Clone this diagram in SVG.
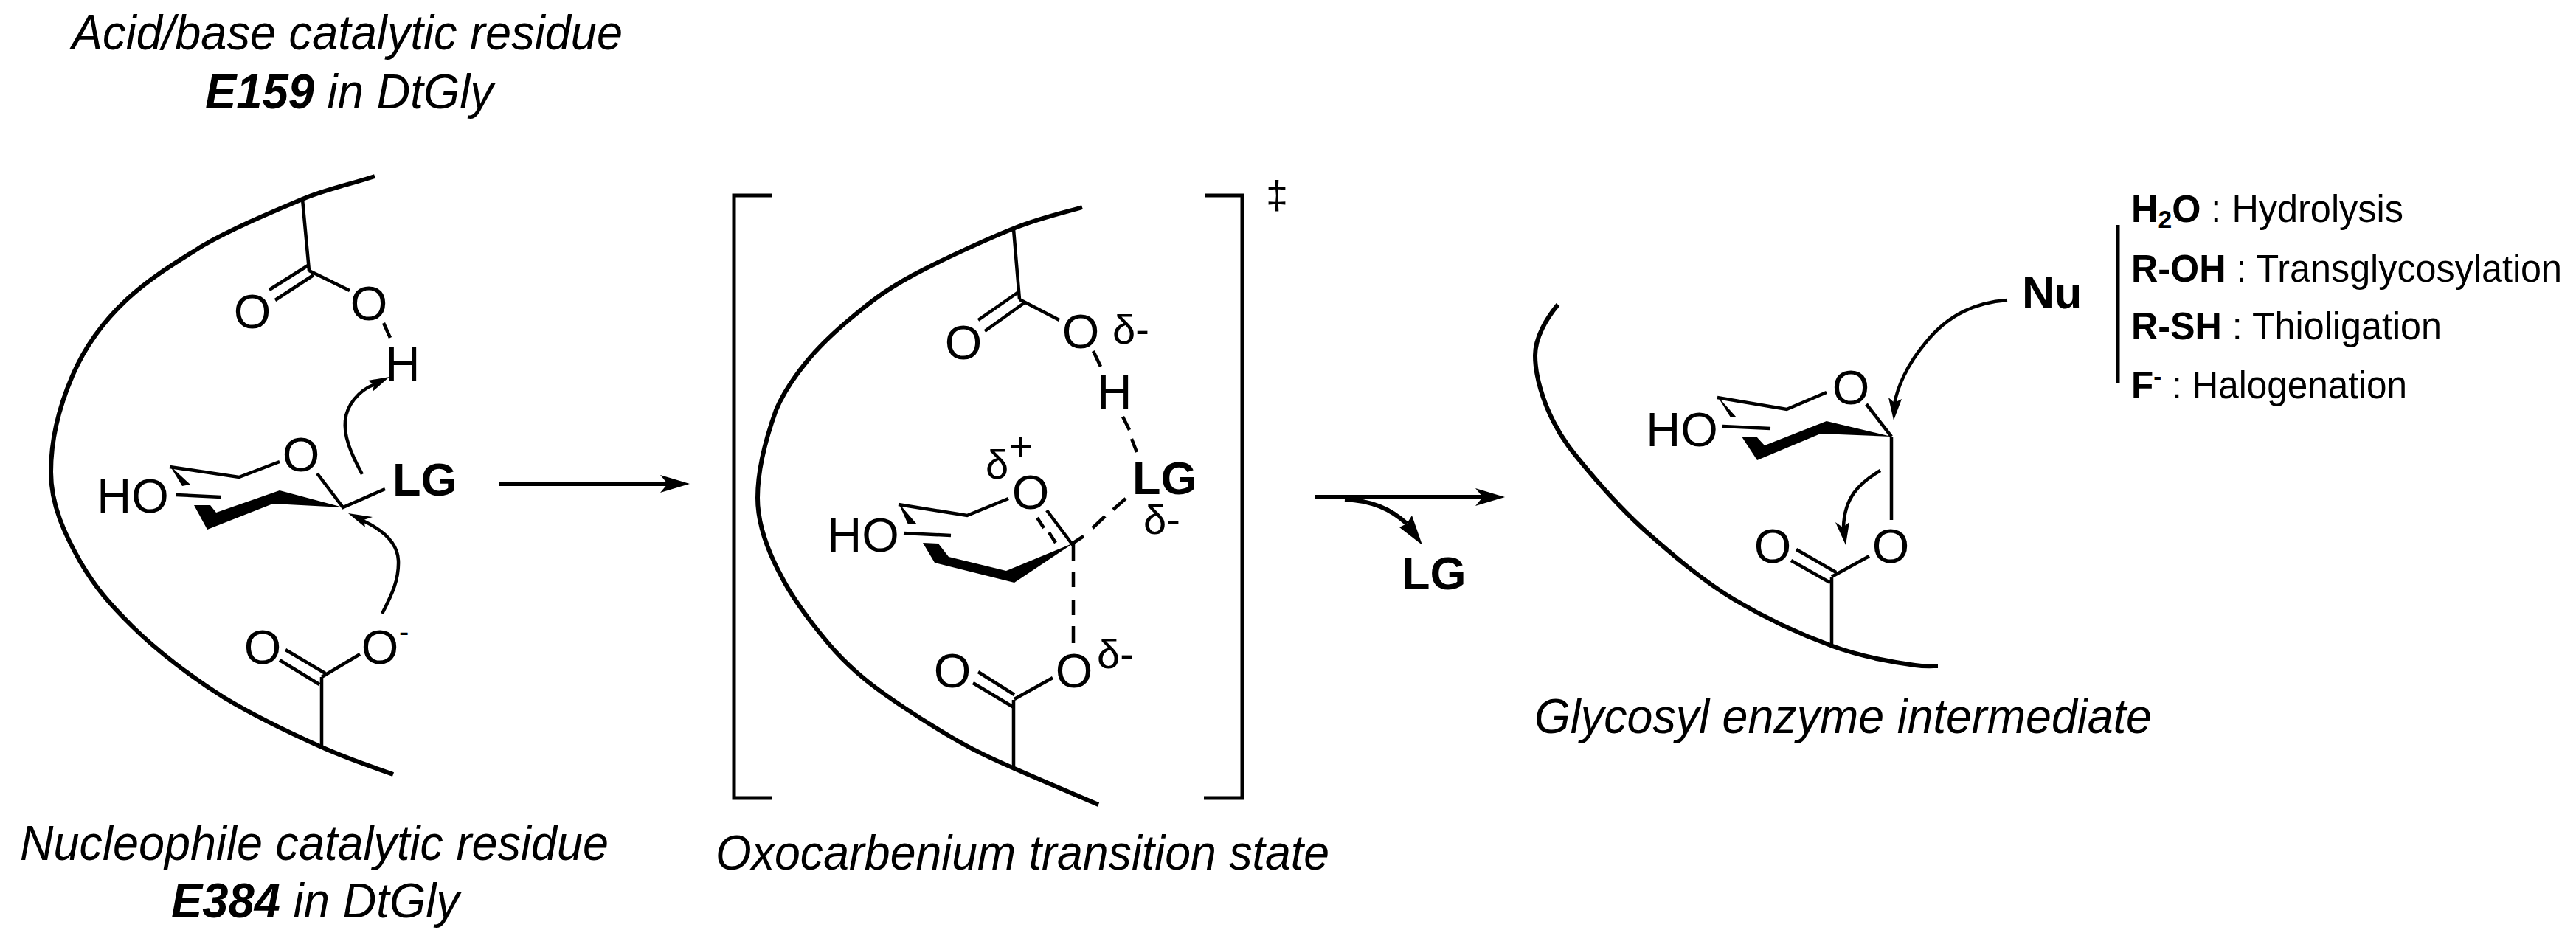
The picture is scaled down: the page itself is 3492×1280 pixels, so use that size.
<svg xmlns="http://www.w3.org/2000/svg" width="3492" height="1280" viewBox="0 0 3492 1280">
<style>
text{font-family:"Liberation Sans",Arial,sans-serif;fill:#000}
.cap{font-size:67px;font-style:italic}
.at{font-size:65px;text-anchor:middle}
.lg{font-size:63px;font-weight:bold}
.d{font-size:56px}
.li{font-size:51px}
.b{font-weight:bold}
.bond{fill:none;stroke:#000;stroke-width:4.5;stroke-linecap:butt}
.prot{fill:none;stroke:#000;stroke-width:6;stroke-linecap:butt;stroke-linejoin:round}
.brk{fill:none;stroke:#000;stroke-width:5}
.arr{fill:none;stroke:#000;stroke-width:4.5}
.main{fill:none;stroke:#000;stroke-width:6}
.fill{fill:#000;stroke:none}
</style>
<defs>
<marker id="head" markerUnits="userSpaceOnUse" markerWidth="40" markerHeight="24" viewBox="0 0 40 24" refX="10" refY="12" orient="auto"><path class="fill" d="M40 12L0 0 10 12 0 24Z"/></marker>
</defs>
<rect width="3492" height="1280" fill="#fff"/>
<g id="substrate-complex">
<text class="cap" x="97" y="67" textLength="747" lengthAdjust="spacingAndGlyphs">Acid/base catalytic residue</text>
<text class="cap" x="278" y="147" textLength="391" lengthAdjust="spacingAndGlyphs"><tspan class="b">E159</tspan> in DtGly</text>
<path class="prot" d="M508 239C475 250 440 257 410 270C365 289 315 310 275 333C235 358 202 378 172 406C142 434 115 470 98 510C80 552 69 595 69 640C69 685 88 725 109 762C130 798 150 820 178 848C212 882 262 920 304 946C347 972 398 996 436 1013C474 1030 517 1044 533 1050"/>
<path class="bond" d="M410 270L419 367M419 359L365 393M425 373L373 407M419 367L474 394M520 438L529 458"/>
<text class="at" x="342" y="445">O</text>
<text class="at" x="500" y="434">O</text>
<text class="at" x="546" y="516">H</text>
<path class="bond" d="M379 626L324 647L230 633M238 671L300 674M430 642L465 688L522 663"/>
<path class="fill" d="M230 631L258 657L247 659ZM263 685L285 685L293 695L379 665L465 688L370 683L281 718Z"/>
<text class="at" x="408" y="639">O</text>
<text class="at" x="180" y="695">HO</text>
<text class="lg" x="532" y="672">LG</text>
<path class="bond" d="M436 1012L436 918M441 913L387 881M433 928L379 895M436 918L488 887"/>
<text class="at" x="356" y="900">O</text>
<text class="at" x="515" y="900">O</text>
<text x="541" y="870" style="font-size:40px">-</text>
<text class="cap" x="27" y="1166" textLength="798" lengthAdjust="spacingAndGlyphs">Nucleophile catalytic residue</text>
<text class="cap" x="232" y="1244" textLength="391" lengthAdjust="spacingAndGlyphs"><tspan class="b">E384</tspan> in DtGly</text>
</g>
<g id="transition-state">
<path class="brk" d="M1047 265H995V1082H1047M1633 265H1684V1082H1632"/>
<text x="1731" y="283" style="font-size:54px" text-anchor="middle">‡</text>
<path class="prot" d="M1467 281C1452 286 1414 294 1376 309C1338 324 1273 354 1236 374C1199 394 1178 411 1154 431C1130 451 1110 470 1093 491C1076 512 1062 532 1052 556C1038 595 1027 635 1027 675C1027 710 1042 750 1060 783C1073 808 1086 826 1104 849C1122 872 1140 894 1170 919C1200 944 1253 978 1287 998C1321 1018 1341 1027 1375 1042C1409 1057 1470 1083 1489 1091"/>
<path class="bond" d="M1374 311L1382 406M1382 395L1326 434M1388 411L1335 449M1382 406L1436 434M1482 476L1492 497M1522 565L1531 583M1534 595L1541 613"/>
<text class="at" x="1306" y="487">O</text>
<text class="at" x="1465" y="472">O</text>
<text class="d" x="1508" y="466">δ-</text>
<text class="at" x="1511" y="554">H</text>
<text class="lg" x="1535" y="670">LG</text>
<text class="d" x="1550" y="724">δ-</text>
<text class="d" x="1336" y="649">δ<tspan dy="-24">+</tspan></text>
<text class="at" x="1397" y="690">O</text>
<path class="bond" d="M1367 676L1311 699L1218 684M1225 723L1289 726M1419 692L1455 740M1406 702L1415 716M1422 722L1431 736M1452 738L1469 727M1481 716L1498 700M1509 691L1526 676M1455 738V760M1455 775V796M1455 813V834M1455 849V872"/>
<path class="fill" d="M1218 682L1243 711L1231 711ZM1251 736L1272 737L1286 755L1364 774L1456 736L1375 790L1267 763Z"/>
<text class="at" x="1170" y="748">HO</text>
<path class="bond" d="M1375 942L1326 911M1374 959L1319 926M1375 948L1427 919M1374 949V1042"/>
<text class="at" x="1291" y="932">O</text>
<text class="at" x="1456" y="932">O</text>
<text class="d" x="1487" y="906">δ-</text>
<text class="cap" x="970" y="1179" textLength="832" lengthAdjust="spacingAndGlyphs">Oxocarbenium transition state</text>
</g>
<g id="leaving-group">
<text class="lg" x="1900" y="799">LG</text>
</g>
<g id="glycosyl-enzyme">
<path class="prot" d="M2112 413C2096 432 2081 458 2081 482C2081 510 2092 545 2106 572C2118 596 2131 612 2152 637C2173 662 2201 694 2234 723C2267 752 2309 788 2351 813C2393 838 2443 861 2484 876C2525 891 2572 899 2596 902C2610 904 2620 903 2627 903"/>
<path class="bond" d="M2483 876V782M2489 776L2435 745M2481 790L2428 760M2483 782L2534 754M2564 592V705M2476 532L2422 555L2328 539M2335 578L2400 581M2530 548L2564 592"/>
<path class="fill" d="M2328 537L2354 566L2346 566ZM2361 592L2381 592L2392 604L2476 571L2564 592L2468 588L2382 624Z"/>
<text class="at" x="2403" y="763">O</text>
<text class="at" x="2563" y="763">O</text>
<text class="at" x="2509" y="548">O</text>
<text class="at" x="2280" y="605">HO</text>
<text class="cap" x="2080" y="994" textLength="837" lengthAdjust="spacingAndGlyphs">Glycosyl enzyme intermediate</text>
</g>
<g id="nucleophile">
<text class="lg" x="2741" y="418" style="font-size:61px">Nu</text>
<path class="brk" d="M2871 305V520"/>
<text class="li" x="2889" y="301" textLength="369" lengthAdjust="spacingAndGlyphs"><tspan class="b">H</tspan><tspan class="b" dy="8" style="font-size:34px">2</tspan><tspan class="b" dy="-8">O</tspan> : Hydrolysis</text>
<text class="li" x="2889" y="382" textLength="584" lengthAdjust="spacingAndGlyphs"><tspan class="b">R-OH</tspan> : Transglycosylation</text>
<text class="li" x="2889" y="460" textLength="421" lengthAdjust="spacingAndGlyphs"><tspan class="b">R-SH</tspan> : Thioligation</text>
<text class="li" x="2889" y="540" textLength="374" lengthAdjust="spacingAndGlyphs"><tspan class="b">F</tspan><tspan class="b" dy="-18" style="font-size:34px">-</tspan><tspan dy="18"> : Halogenation</tspan></text>
</g>
<g id="connectors">
<path class="main" d="M677 656H905" marker-end="url(#head)"/>
<path class="main" d="M1782 674H2010" marker-end="url(#head)"/>
<path class="arr" d="M1823 677C1860 679 1885 690 1907 710" style="stroke-width:6"/>
<path class="fill" d="M1928 739L1914 699L1907 710L1897 715Z"/>
<path class="arr" d="M491 643C474 612 466 590 468 570C470 550 485 530 508 521"/>
<path class="fill" d="M528 511L499 516L507 522L505 531Z"/>
<path class="arr" d="M518 832C532 805 541 785 540 760C539 738 522 720 492 706"/>
<path class="fill" d="M472 696L505 701L493 705L495 715Z"/>
<path class="arr" d="M2721 407C2680 410 2642 425 2610 465C2585 495 2572 525 2568 548"/>
<path class="fill" d="M2567 570L2560 539L2568 546L2578 541Z"/>
<path class="arr" d="M2549 638C2520 655 2500 675 2499 715"/>
<path class="fill" d="M2502 739L2488 708L2498 715L2507 708Z"/>
</g>
</svg>
